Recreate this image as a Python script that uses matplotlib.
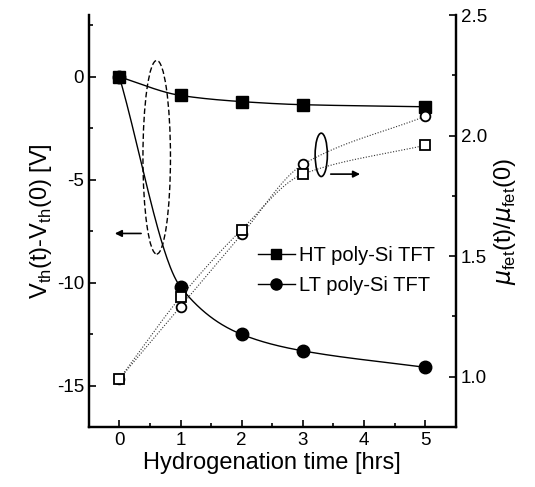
import numpy as np
import matplotlib.pyplot as plt
from matplotlib.patches import Ellipse
from matplotlib.ticker import MultipleLocator

plt.rcParams['font.family'] = ['Liberation Sans', 'DejaVu Sans']
plt.rcParams['axes.unicode_minus'] = False

# hydrogenation time [hrs]
hours = [0, 1, 2, 3, 5]
# threshold voltage shift [V]
vth_ht = [0.0, -0.9, -1.2, -1.35, -1.45]
vth_lt = [0.0, -10.2, -12.5, -13.3, -14.1]
# normalised field effect mobility
mu_circ = [0.99, 1.29, 1.59, 1.88, 2.08]
mu_sq = [0.99, 1.33, 1.61, 1.84, 1.96]


def smooth(x, y, n=60):
    """Smooth connector through points (cubic Hermite with monotone slopes)"""
    x = np.asarray(x, float)
    y = np.asarray(y, float)
    d = np.diff(y) / np.diff(x)
    m = np.zeros_like(y)
    m[0], m[-1] = d[0], d[-1]
    for i in range(1, len(x) - 1):
        m[i] = 0 if d[i - 1] * d[i] <= 0 else 2 / (1 / d[i - 1] + 1 / d[i])
    xs, ys = [], []
    for i in range(len(x) - 1):
        h = x[i + 1] - x[i]
        t = np.linspace(0, 1, n)
        h00 = 2 * t**3 - 3 * t**2 + 1
        h10 = t**3 - 2 * t**2 + t
        h01 = -2 * t**3 + 3 * t**2
        h11 = t**3 - t**2
        xs.append(x[i] + t * h)
        ys.append(h00 * y[i] + h10 * h * m[i] + h01 * y[i + 1] + h11 * h * m[i + 1])
    return np.concatenate(xs), np.concatenate(ys)


fig = plt.figure(figsize=(5.35, 4.87), dpi=100)
ax = fig.add_axes([0.166, 0.123, 0.686, 0.846])
ax2 = ax.twinx()

# left axis: Vth shift
for vals, mk in [(vth_ht, 's'), (vth_lt, 'o')]:
    sx, sy = smooth(hours, vals)
    ax.plot(sx, sy, color='black', lw=1.0)
    ax.plot(hours, vals, linestyle='none', marker=mk, color='black',
            markersize=8 if mk == 's' else 9)

# right axis: mobility
for vals, mk in [(mu_circ, 'o'), (mu_sq, 's')]:
    sx, sy = smooth(hours, vals)
    ax2.plot(sx, sy, color='#333333', lw=0.8, linestyle=(0, (1, 1.5)))
    ax2.plot(hours, vals, linestyle='none', marker=mk, markerfacecolor='white',
             markeredgecolor='black', markeredgewidth=1.3, markersize=7)

# legend
ax.plot([], [], color='black', lw=1.0, marker='s', markersize=7, label='HT poly-Si TFT')
ax.plot([], [], color='black', lw=1.0, marker='o', markersize=8, label='LT poly-Si TFT')
ax.legend(loc='upper left', bbox_to_anchor=(0.44, 0.46), frameon=False, fontsize=14.5,
          handlelength=1.8, handletextpad=0.2, labelspacing=0.55, borderaxespad=0)

# annotation ellipses and arrows
ax.add_patch(Ellipse((0.61, -3.9), 0.45, 9.4, fill=False, linestyle=(0, (4, 2)),
                     lw=1.0, color='black'))
ax.annotate('', xy=(-0.12, -7.6), xytext=(0.4, -7.6),
            arrowprops=dict(arrowstyle='-|>', color='black', lw=1.2, mutation_scale=10))
ax2.add_patch(Ellipse((3.3, 1.92), 0.2, 0.18, fill=False, lw=1.2, color='black'))
ax2.annotate('', xy=(3.98, 1.84), xytext=(3.41, 1.84),
             arrowprops=dict(arrowstyle='-|>', color='black', lw=1.2, mutation_scale=10))

ax.set_xlim(-0.5, 5.5)
ax.set_ylim(-17, 3)
ax2.set_ylim(0.79, 2.5)
ax.set_xticks(hours + [4])
ax.xaxis.set_minor_locator(MultipleLocator(0.5))
ax.set_yticks([-15, -10, -5, 0])
ax.yaxis.set_minor_locator(MultipleLocator(2.5))
ax2.set_yticks([1.0, 1.5, 2.0, 2.5])
ax2.set_yticklabels(['1.0', '1.5', '2.0', '2.5'])
ax2.yaxis.set_minor_locator(MultipleLocator(0.25))

for a in (ax, ax2):
    a.tick_params(which='both', direction='in', labelsize=13.5, width=1.2)
    a.tick_params(which='major', length=5)
    a.tick_params(which='minor', length=3)
    for s in a.spines.values():
        s.set_linewidth(1.6)
    a.spines['top'].set_visible(False)

ax.set_xlabel('Hydrogenation time [hrs]', fontsize=17, labelpad=2)
ax.set_ylabel(r'V$_{\mathregular{th}}$(t)-V$_{\mathregular{th}}$(0) [V]', fontsize=17, labelpad=2)
ax2.set_ylabel(r'$\mu_{\mathregular{fet}}$(t)/$\mu_{\mathregular{fet}}$(0)', fontsize=17, labelpad=4)

fig.savefig('out.png', dpi=100)
